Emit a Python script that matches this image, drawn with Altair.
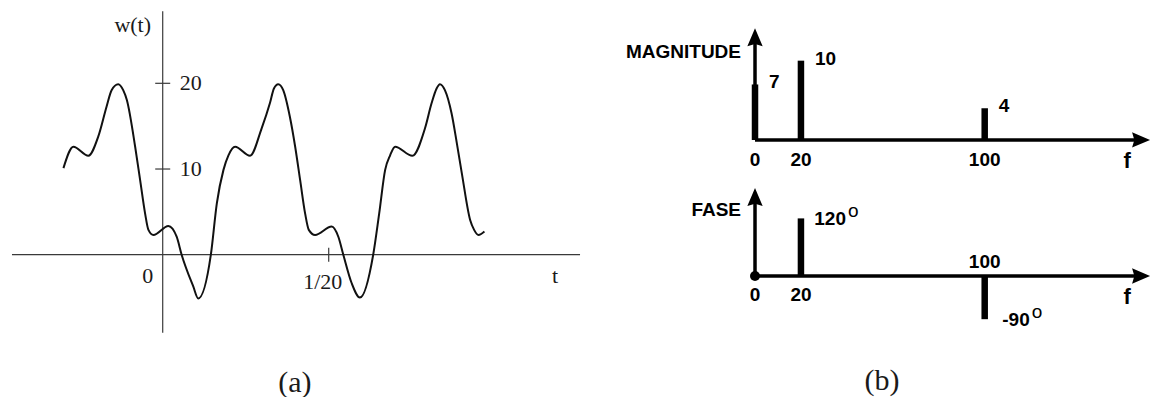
import altair as alt
import pandas as pd

# ---------------- data ----------------
# (a) waveform w(t): time in seconds, amplitude in units
t_vals = [-0.0299, -0.0269, -0.0224, -0.0194, -0.0169, -0.0154, -0.0134, -0.0119, -0.0108, -0.0083,
          -0.0068, -0.0053, -0.0043, -0.0028, 0.0017, 0.0042, 0.0057, 0.0092, 0.0107, 0.0145,
          0.0163, 0.0183, 0.0198, 0.0218, 0.0263, 0.0298, 0.0323, 0.0335, 0.0348, 0.0363,
          0.0383, 0.0399, 0.0414, 0.0429, 0.0440, 0.0459, 0.0509, 0.0529, 0.0544, 0.0569,
          0.0594, 0.0634, 0.0652, 0.0670, 0.0685, 0.0700, 0.0752, 0.0790, 0.0810, 0.0825,
          0.0835, 0.0850, 0.0870, 0.0886, 0.0901, 0.0926, 0.0938, 0.0951, 0.0969]
w_vals = [10.1, 12.6, 11.55, 13.8, 17.3, 19.2, 19.9, 19.2, 18.05, 12.6,
          8.7, 4.8, 2.9, 2.3, 3.35, 2.1, 0.0, -3.7, -5.1, 0.0,
          6.0, 9.9, 11.6, 12.6, 11.55, 14.75, 17.7, 19.4, 19.9, 19.2,
          16.1, 12.6, 8.7, 4.8, 2.9, 2.3, 3.3, 2.1, 0.0, -3.3,
          -5.0, 0.0, 4.8, 9.9, 11.6, 12.6, 11.55, 14.75, 17.7, 19.4,
          19.9, 19.2, 16.5, 13.0, 9.5, 4.05, 2.9, 2.3, 2.7]
w_tick_values = [10, 20]
t_tick_values = [0.05]
t_tick_labels = ["1/20"]

# (b) one-sided spectrum
freqs = [0, 20, 100]
magnitudes = [7, 10, 4]
phases = [0, 120, -90]          # degrees; the DC term has zero phase

# extents of the hand-drawn axes, in data units
T_AXIS_SPAN = [-0.0454, 0.1257]
W_AXIS_SPAN = [-9.1, 28.4]
F_AXIS_LINE_END, F_AXIS_TIP = 168, 172
MAG_AXIS_LINE_END, MAG_AXIS_TIP = 13.0, 14.1
PH_AXIS_LINE_END, PH_AXIS_TIP = 165, 183.3

# ---------------- scales ----------------
T_SCALE = alt.Scale(domain=[-0.04901, 0.29768], nice=False, zero=False)
W_SCALE = alt.Scale(domain=[-16.60, 29.72], nice=False, zero=False)
F_SCALE = alt.Scale(domain=[-328.7, 172.4], nice=False, zero=False)
M_SCALE = alt.Scale(domain=[-32.41, 17.65], nice=False, zero=False)
P_SCALE = alt.Scale(domain=[-252.1, 575.0], nice=False, zero=False)

SERIF = "Liberation Serif"
SANS = "Liberation Sans"
AXIS_GRAY = "#3a3a3a"
INK = "#1a1a1a"

ARROW_UP = "M0,0L-0.85,2L0,1.75L0.85,2Z"
ARROW_RIGHT = "M0,0L-2,-0.85L-1.75,0L-2,0.85Z"


def ex(field, scale):
    return alt.X(field, type="quantitative", scale=scale, axis=None, title=None)


def ey(field, scale):
    return alt.Y(field, type="quantitative", scale=scale, axis=None, title=None)


def text_layer(df, xf, yf, xs, ys, field="label", **mark):
    return alt.Chart(df).mark_text(**mark).encode(
        x=ex(xf, xs), y=ey(yf, ys), text=alt.Text(f"{field}:N"))


# ---------------- (a) time domain ----------------
wave = pd.DataFrame({"t": t_vals, "w": w_vals})

t_axis = pd.DataFrame({"t": [T_AXIS_SPAN[0]], "t2": [T_AXIS_SPAN[1]], "w": [0]})
w_axis = pd.DataFrame({"t": [0], "w": [W_AXIS_SPAN[0]], "w2": [W_AXIS_SPAN[1]]})
w_ticks = pd.DataFrame({"t": [0] * len(w_tick_values), "w": w_tick_values,
                        "label": [str(v) for v in w_tick_values]})
t_ticks = pd.DataFrame({"t": t_tick_values, "w": [0] * len(t_tick_values), "label": t_tick_labels})
origin = pd.DataFrame({"t": [0], "w": [0], "label": ["0"]})
t_name = pd.DataFrame({"t": [T_AXIS_SPAN[1]], "w": [0], "label": ["t"]})
w_name = pd.DataFrame({"t": [0], "w": [W_AXIS_SPAN[1]], "label": ["w(t)"]})
cap_a = pd.DataFrame({"t": [0.0398], "w": [-15.0], "label": ["(a)"]})

serif = dict(font=SERIF, fontSize=22, color=INK, baseline="middle")

panel_a = alt.layer(
    alt.Chart(t_axis).mark_rule(color=AXIS_GRAY, strokeWidth=1.2).encode(
        x=ex("t", T_SCALE), x2=alt.X2("t2"), y=ey("w", W_SCALE)),
    alt.Chart(w_axis).mark_rule(color=AXIS_GRAY, strokeWidth=1.2).encode(
        x=ex("t", T_SCALE), y=ey("w", W_SCALE), y2=alt.Y2("w2")),
    alt.Chart(w_ticks).mark_tick(orient="horizontal", size=15, thickness=1.2,
                                 color=AXIS_GRAY, opacity=1).encode(
        x=ex("t", T_SCALE), y=ey("w", W_SCALE)),
    alt.Chart(t_ticks).mark_tick(orient="vertical", size=14, thickness=1.2,
                                 color=AXIS_GRAY, opacity=1).encode(
        x=ex("t", T_SCALE), y=ey("w", W_SCALE)),
    text_layer(w_ticks, "t", "w", T_SCALE, W_SCALE, align="left", dx=17, **serif),
    text_layer(t_ticks, "t", "w", T_SCALE, W_SCALE, align="center", dx=-6, dy=27, **serif),
    text_layer(origin, "t", "w", T_SCALE, W_SCALE, align="center", dx=-15, dy=21, **serif),
    text_layer(t_name, "t", "w", T_SCALE, W_SCALE, align="center", dx=-25, dy=21, **serif),
    text_layer(w_name, "t", "w", T_SCALE, W_SCALE, align="center", dx=-30, dy=14, **serif),
    alt.Chart(wave).mark_line(color="#111111", strokeWidth=2, interpolate="monotone").encode(
        x=ex("t", T_SCALE), y=ey("w", W_SCALE)),
    text_layer(cap_a, "t", "w", T_SCALE, W_SCALE, align="center",
               font=SERIF, fontSize=30, color=INK, baseline="middle"),
)

# ---------------- (b) spectrum ----------------
spec = pd.DataFrame({"f": freqs, "mag": magnitudes, "phase": phases})
spec["zero"] = 0
spec["mag_label"] = spec["mag"].astype(str)
spec["phase_label"] = spec["phase"].astype(str)
spec["f_label"] = spec["f"].astype(str)
spec["deg"] = "o"

bold = dict(font=SANS, fontWeight="bold", color="black", baseline="middle")


def freq_axis(ys, line_end, tip, name, name_v):
    h_axis = pd.DataFrame({"f": [0], "f2": [F_AXIS_LINE_END], "v": [0]})
    v_axis = pd.DataFrame({"f": [0], "v": [0], "v2": [line_end]})
    tip_r = pd.DataFrame({"f": [F_AXIS_TIP], "v": [0]})
    tip_u = pd.DataFrame({"f": [0], "v": [tip]})
    f_name = pd.DataFrame({"f": [162], "v": [0], "label": ["f"]})
    v_name = pd.DataFrame({"f": [0], "v": [name_v], "label": [name]})
    return [
        alt.Chart(h_axis).mark_rule(color="black", strokeWidth=3.5).encode(
            x=ex("f", F_SCALE), x2=alt.X2("f2"), y=ey("v", ys)),
        alt.Chart(v_axis).mark_rule(color="black", strokeWidth=3.5).encode(
            x=ex("f", F_SCALE), y=ey("v", ys), y2=alt.Y2("v2")),
        alt.Chart(tip_r).mark_point(shape=ARROW_RIGHT, size=324, filled=True,
                                    color="black", opacity=1, strokeWidth=0).encode(
            x=ex("f", F_SCALE), y=ey("v", ys)),
        alt.Chart(tip_u).mark_point(shape=ARROW_UP, size=324, filled=True,
                                    color="black", opacity=1, strokeWidth=0).encode(
            x=ex("f", F_SCALE), y=ey("v", ys)),
        text_layer(f_name, "f", "v", F_SCALE, ys, align="center", dy=21, fontSize=22, **bold),
        text_layer(v_name, "f", "v", F_SCALE, ys, align="right", dx=-14, fontSize=19, **bold),
    ]


panel_mag = alt.layer(
    *freq_axis(M_SCALE, MAG_AXIS_LINE_END, MAG_AXIS_TIP, "MAGNITUDE", 11.1),
    alt.Chart(spec).mark_rule(color="black", strokeWidth=6.5).encode(
        x=ex("f", F_SCALE), y=ey("zero", M_SCALE), y2=alt.Y2("mag")),
    text_layer(spec, "f", "mag", F_SCALE, M_SCALE, field="mag_label",
               align="left", dx=14, dy=-2, fontSize=19, **bold),
    text_layer(spec, "f", "zero", F_SCALE, M_SCALE, field="f_label",
               align="center", dy=20, fontSize=19, **bold),
)

cap_b = pd.DataFrame({"f": [55.3], "v": [-218.75], "label": ["(b)"]})

panel_phase = alt.layer(
    *freq_axis(P_SCALE, PH_AXIS_LINE_END, PH_AXIS_TIP, "FASE", 137.5),
    alt.Chart(spec).transform_filter("datum.phase == 0").mark_point(
        shape="circle", size=100, filled=True, color="black", opacity=1).encode(
        x=ex("f", F_SCALE), y=ey("phase", P_SCALE)),
    alt.Chart(spec).transform_filter("datum.phase != 0").mark_rule(
        color="black", strokeWidth=6.5).encode(
        x=ex("f", F_SCALE), y=ey("zero", P_SCALE), y2=alt.Y2("phase")),
    alt.Chart(spec).transform_filter("datum.phase != 0").mark_text(
        align="right", dx=45, dy=1, fontSize=19, **bold).encode(
        x=ex("f", F_SCALE), y=ey("phase", P_SCALE), text=alt.Text("phase_label:N")),
    alt.Chart(spec).transform_filter("datum.phase != 0").mark_text(
        align="left", dx=47, dy=-7.6, fontSize=19, font=SANS, color="black",
        baseline="middle").encode(
        x=ex("f", F_SCALE), y=ey("phase", P_SCALE), text=alt.Text("deg:N")),
    alt.Chart(spec).transform_filter("datum.phase >= 0").mark_text(
        align="center", dy=19, fontSize=19, **bold).encode(
        x=ex("f", F_SCALE), y=ey("zero", P_SCALE), text=alt.Text("f_label:N")),
    alt.Chart(spec).transform_filter("datum.phase < 0").mark_text(
        align="center", dy=-14, fontSize=19, **bold).encode(
        x=ex("f", F_SCALE), y=ey("zero", P_SCALE), text=alt.Text("f_label:N")),
    text_layer(cap_b, "f", "v", F_SCALE, P_SCALE, align="center",
               font=SERIF, fontSize=30, color=INK, baseline="middle"),
)

chart = alt.layer(panel_a, panel_mag, panel_phase).resolve_scale(
    x="independent", y="independent"
).properties(
    width=1151, height=397, padding=0,
    autosize=alt.AutoSizeParams(type="none"),
    background="white",
).configure_view(stroke=None)

chart.save("out.html", embed_options={"renderer": "svg", "actions": False})
